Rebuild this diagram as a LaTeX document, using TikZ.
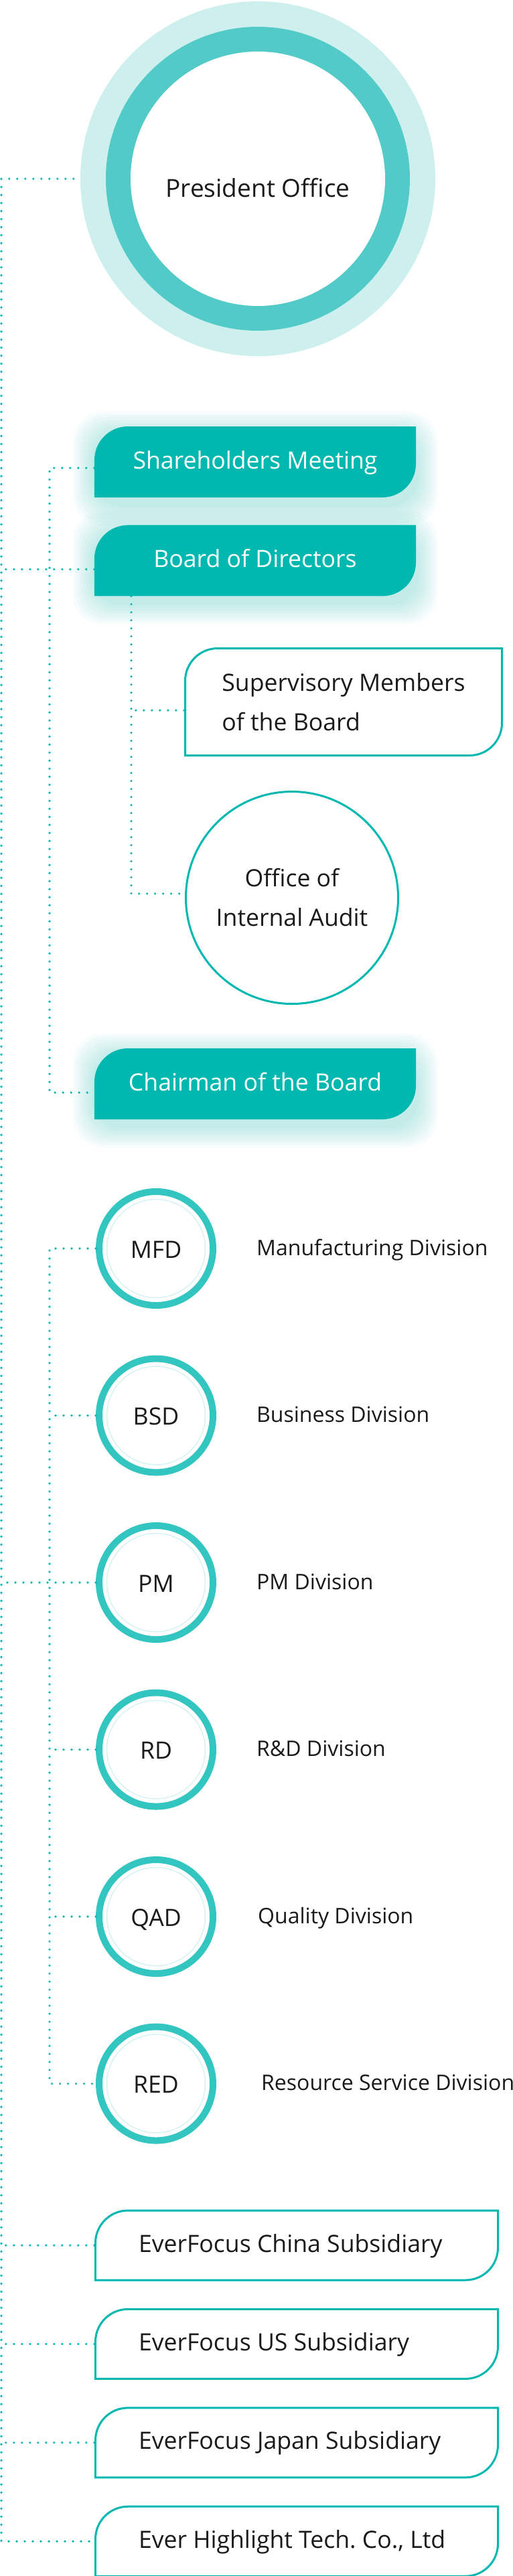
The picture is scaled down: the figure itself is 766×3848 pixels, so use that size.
\documentclass[tikz,border=0pt]{standalone}
\usepackage{fontspec}
\setmainfont{Open Sans}
\usepackage{tikz}
\usetikzlibrary{positioning,backgrounds}
\frenchspacing
\definecolor{everteal}{RGB}{0,184,176}
\definecolor{ringteal}{RGB}{51,198,192}
\definecolor{presring}{RGB}{82,203,200}
\definecolor{preshalo}{RGB}{205,240,239}
\definecolor{thinring}{RGB}{214,243,242}
\definecolor{inktext}{RGB}{26,26,26}
\newcommand{\leafpath}[2]{%
  \path[#1] ([xshift=#2,yshift=#2]path picture bounding box.south west)
    -- ([xshift=#2,yshift=-50bp]path picture bounding box.north west)
    arc[start angle=180, end angle=90, radius=50bp-#2]
    -- ([xshift=-#2,yshift=-#2]path picture bounding box.north east)
    -- ([xshift=-#2,yshift=50bp]path picture bounding box.south east)
    arc[start angle=0, end angle=-90, radius=50bp-#2] -- cycle;}
\newcommand{\subline}[1]{\makebox[472bp][l]{#1}}
\tikzset{
  bigtext/.style={font=\fontsize{35.6bp}{59bp}\selectfont},
  oneline/.style={text height=26bp, text depth=6bp},
  tealbox/.style={rectangle, bigtext, oneline, text=white, inner sep=0pt, minimum width=480bp, minimum height=106bp, path picture={\leafpath{fill=everteal}{0bp}}},
  linebox/.style={rectangle, bigtext, text=inktext, inner sep=0pt, minimum width=476bp, minimum height=163bp, align=left, path picture={\leafpath{draw=everteal, line width=3bp}{1.5bp}}},
  subbox/.style={rectangle, bigtext, oneline, text=inktext, inner xsep=66bp, inner ysep=0pt, minimum width=604bp, minimum height=107bp, path picture={\leafpath{draw=everteal, line width=3bp}{1.5bp}}},
  presnode/.style={circle, font=\fontsize{37bp}{44bp}\selectfont, text=inktext, minimum size=530bp, inner sep=0pt, fill=preshalo, text height=54bp, text depth=0bp, path picture={\fill[presring] (path picture bounding box.center) circle (227bp); \fill[white] (path picture bounding box.center) circle (190bp);}},
  auditnode/.style={circle, bigtext, text=inktext, minimum size=317bp, inner sep=0pt, draw=everteal, line width=3bp, align=center},
  divnode/.style={circle, bigtext, text=inktext, minimum size=170bp, inner sep=0pt, draw=ringteal, line width=10bp, fill=white, text height=28bp, text depth=0bp, path picture={\draw[thinring, line width=1.5bp] (path picture bounding box.center) circle (73.5bp);}},
  divlabel/.style={font=\fontsize{32bp}{40bp}\selectfont, text=inktext, inner sep=0pt, oneline},
  dotline/.style={draw=everteal, line width=3.6bp, line cap=round, dash pattern=on 0bp off 12bp},
  glow/.style={fill=everteal, opacity=0.03, rounded corners=45bp}
}
\begin{document}
\begin{tikzpicture}[x=1bp, y=1bp, node distance=40bp]
\useasboundingbox (0,0) rectangle (766,-3848);
\node[presnode] (pres) at (385,-267) {President Office};
\node[tealbox] (sm) at (381,-690) {Shareholders Meeting};
\node[tealbox, below=41bp of sm] (bd) {Board of Directors};
\node[linebox] (sup) at (513,-1048.5) {Supervisory Members\\of the Board};
\node[auditnode] (audit) at (436,-1341) {Office of\\Internal Audit};
\node[tealbox] (ch) at (381,-1619) {Chairman of the Board};
\node[divnode] (mfd) at (233,-1865) {MFD};
\node[divnode, below=69.5bp of mfd] (bsd) {BSD};
\node[divnode, below=69.5bp of bsd] (pm) {PM};
\node[divnode, below=69.5bp of pm] (rd) {RD};
\node[divnode, below=69.5bp of rd] (qad) {QAD};
\node[divnode, below=69.5bp of qad] (red) {RED};
\node[divlabel, right=60bp of mfd] (mfdl) {Manufacturing Division};
\node[divlabel, right=60bp of bsd] (bsdl) {Business Division};
\node[divlabel, right=60bp of pm] (pml) {PM Division};
\node[divlabel, right=60bp of rd] (rdl) {R\&D Division};
\node[divlabel, right=62bp of qad] (qadl) {Quality Division};
\node[divlabel, right=67bp of red] (redl) {Resource Service Division};
\node[subbox] (china) at (443,-3354) {\subline{EverFocus China Subsidiary}};
\node[subbox, below=of china] (us) {\subline{EverFocus US Subsidiary}};
\node[subbox, below=of us] (japan) {\subline{EverFocus Japan Subsidiary}};
\node[subbox, below=of japan] (hl) {\subline{Ever Highlight Tech. Co., Ltd}};
\coordinate (bus) at (2,-267);
\coordinate (spine) at (74,0);
\coordinate (subline) at (196,0);
\coordinate (smlink) at ([yshift=-9bp]sm.west);
\coordinate (bdlink) at ([yshift=-13bp]bd.west);
\coordinate (chlink) at ([yshift=-13bp]ch.west);
\coordinate (suplink) at ([yshift=-12.5bp]sup.west);
\draw[dotline, shorten <=10bp] (pres.west) -- (bus) |- (hl.west);
\draw[dotline] (bdlink) -- (bdlink -| bus);
\draw[dotline] (pm.west) -- (pm.west -| bus);
\draw[dotline] (china.west) -- (china.west -| bus);
\draw[dotline] (us.west) -- (us.west -| bus);
\draw[dotline] (japan.west) -- (japan.west -| bus);
\draw[dotline] (smlink) -- (smlink -| spine) |- (chlink);
\draw[dotline] (bd.south -| subline) |- ([yshift=6bp]audit.west);
\draw[dotline] (suplink) -- (suplink -| subline);
\draw[dotline] (mfd.west) -- (mfd.west -| spine) |- (red.west);
\draw[dotline] (bsd.west) -- (bsd.west -| spine);
\draw[dotline] (rd.west) -- (rd.west -| spine);
\draw[dotline] (qad.west) -- (qad.west -| spine);
\begin{scope}[on background layer]
\fill[white] (0,0) rectangle (766,-3848);
\foreach \n in {sm,bd,ch}
  \foreach \g in {4,8,...,32}
    \fill[glow] ([shift={(-\g,-\g-10)}]\n.south west) rectangle ([shift={(\g,\g-10)}]\n.north east);
\end{scope}
\end{tikzpicture}
\end{document}
